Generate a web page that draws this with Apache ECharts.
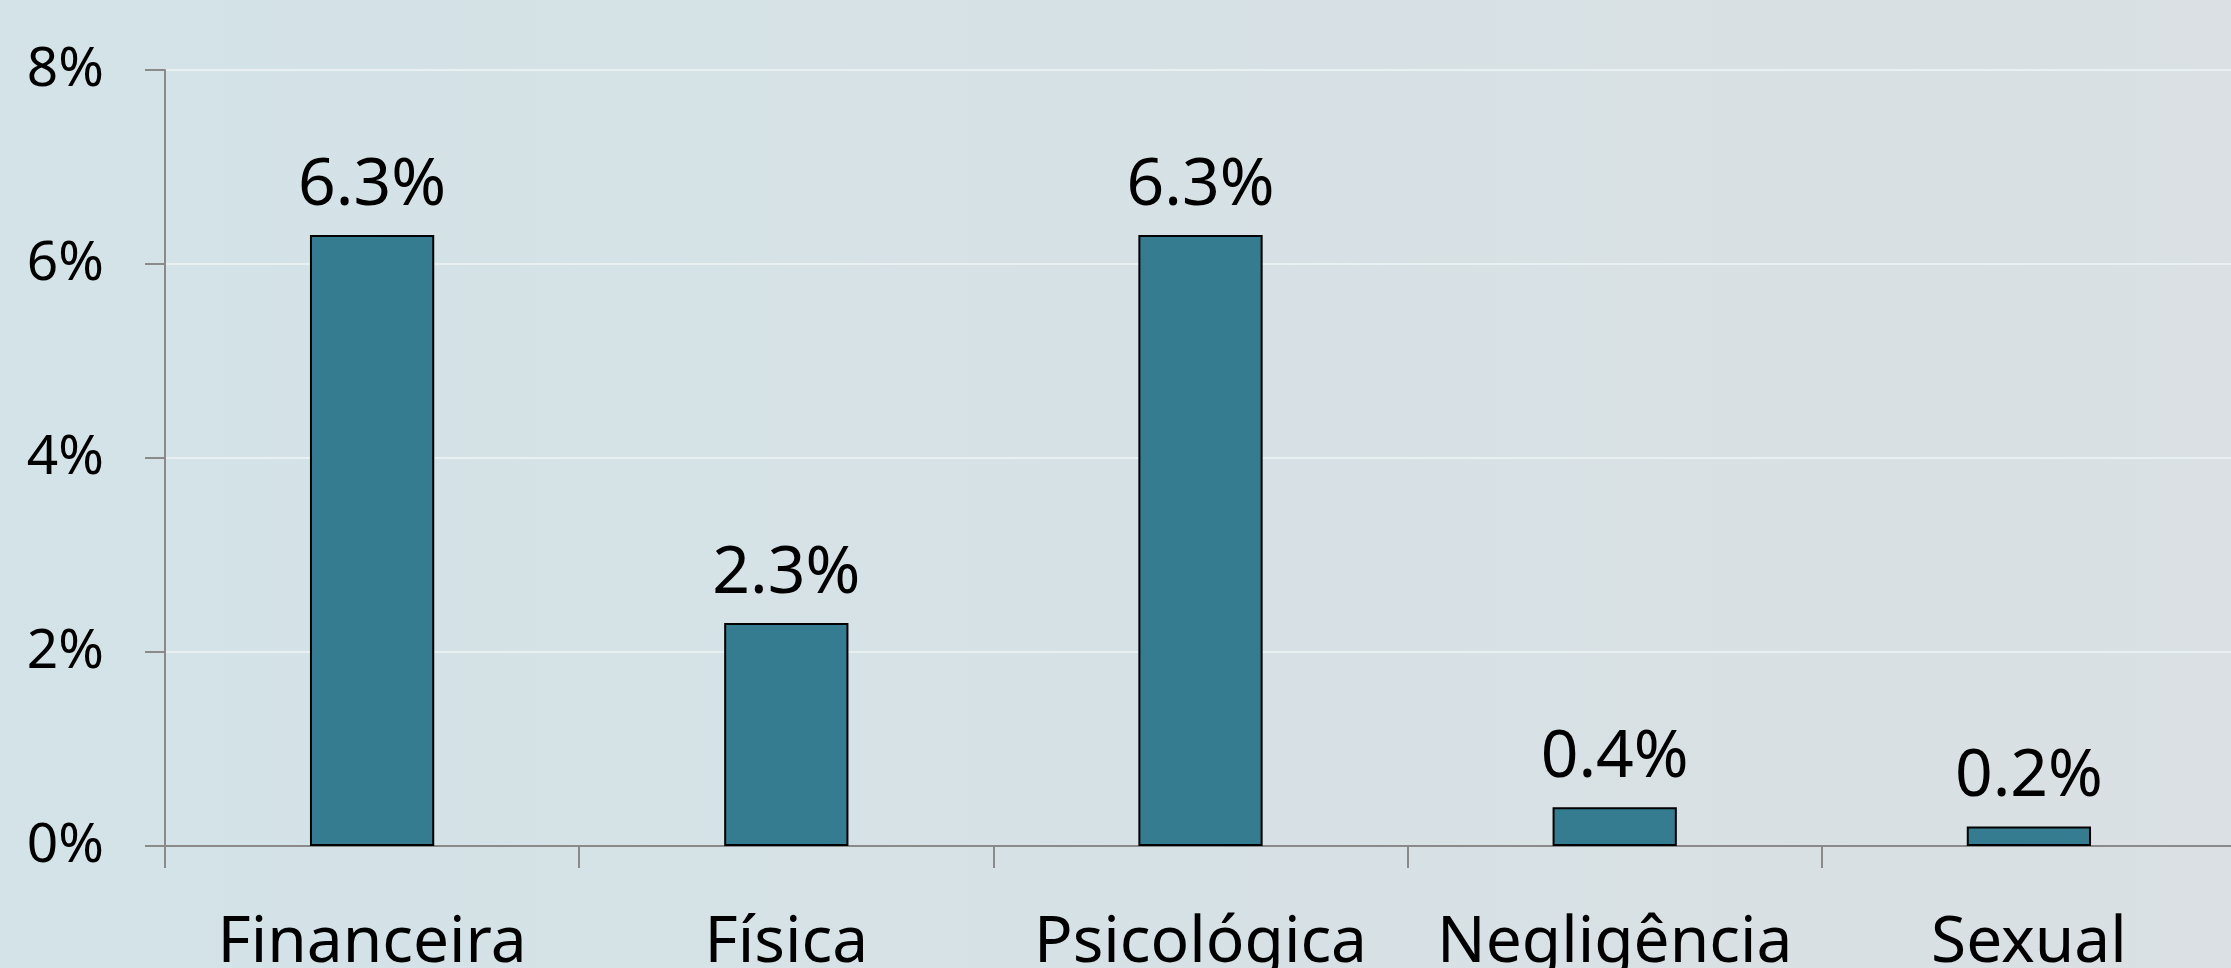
<!DOCTYPE html>
<html>
<head>
<meta charset="utf-8">
<script src="https://cdn.jsdelivr.net/npm/echarts@6/dist/echarts.min.js"></script>
<style>
html, body { margin: 0; padding: 0; }
#chart { width: 2231px; height: 968px; }
</style>
</head>
<body>
<div id="chart"></div>
<script>
// data
const categories = ["Financeira", "Física", "Psicológica", "Negligência", "Sexual"];
const values = [6.3, 2.3, 6.3, 0.4, 0.2];
const yTicks = [0, 2, 4, 6, 8];

const chart = echarts.init(document.getElementById("chart"));
chart.setOption({
    backgroundColor: {
        type: "linear", x: 0, y: 0, x2: 1, y2: 0,
        colorStops: [
            { offset: 0, color: "#d3e3e8" },
            { offset: 1, color: "#dae0e3" }
        ]
    },
    textStyle: { fontFamily: "Noto Sans" },
    grid: { left: 165, right: -5, top: 70, bottom: 122, containLabel: false, outerBoundsMode: "none" },
    xAxis: {
        type: "category",
        data: categories,
        axisLine: { lineStyle: { color: "#8a8a8a", width: 2 } },
        axisTick: { show: true, interval: 0, length: 22, lineStyle: { color: "#8a8a8a", width: 2 } },
        axisLabel: { color: "#000", fontSize: 64, margin: 66, interval: 0, hideOverlap: false }
    },
    yAxis: {
        type: "value",
        min: yTicks[0],
        max: yTicks[yTicks.length - 1],
        interval: 2,
        axisLine: { show: true, lineStyle: { color: "#8a8a8a", width: 2 } },
        axisTick: { show: true, length: 20, lineStyle: { color: "#8a8a8a", width: 2 } },
        axisLabel: { color: "#000", fontSize: 55, margin: 61, formatter: "{value}%" },
        splitLine: { lineStyle: { color: "#e8f0f2", width: 2 } }
    },
    series: [{
        type: "bar",
        data: values,
        barWidth: "30%",
        itemStyle: { color: "#367c91", borderColor: "#000", borderWidth: 2 },
        label: {
            show: true,
            position: "top",
            distance: 16,
            color: "#000",
            fontSize: 66,
            formatter: p => p.value.toFixed(1) + "%"
        }
    }]
});
</script>
</body>
</html>
